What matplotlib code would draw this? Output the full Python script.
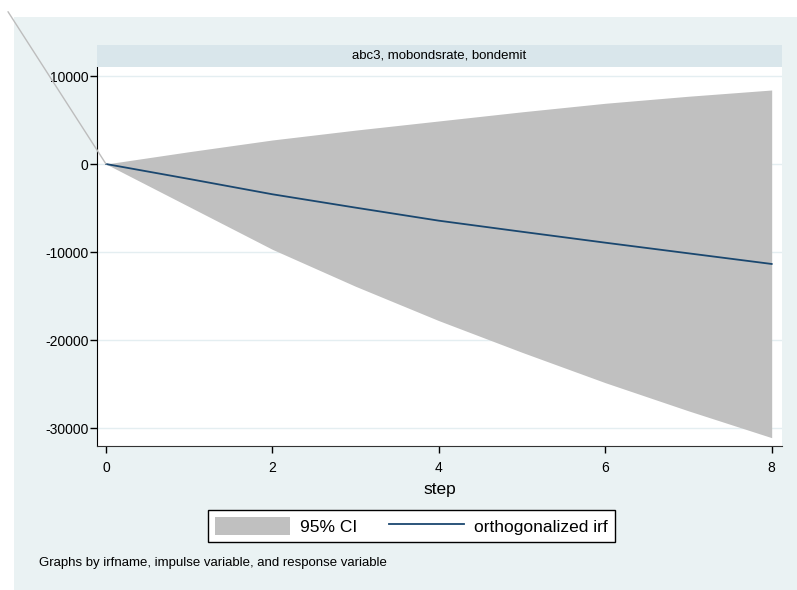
import matplotlib
matplotlib.use("Agg")
import matplotlib.pyplot as plt
from matplotlib.patches import Rectangle, Patch
from matplotlib.lines import Line2D

plt.rcParams['font.family'] = ['Liberation Sans', 'DejaVu Sans']
plt.rcParams['axes.unicode_minus'] = False

# data
step = [0, 1, 2, 3, 4, 5, 6, 7, 8]
oirf = [0, -1700, -3440, -4960, -6440, -7700, -8940, -10150, -11360]
ci_upper = [0, 1400, 2730, 3850, 4890, 5930, 6900, 7700, 8410]
ci_lower = [0, -4850, -9700, -13900, -17800, -21400, -24850, -28050, -31100]
yticks = [10000, 0, -10000, -20000, -30000]
xticks = [0, 2, 4, 6, 8]
panel_title = "abc3, mobondsrate, bondemit"

W, H = 797, 590
fig = plt.figure(figsize=(W / 100, H / 100), dpi=100, facecolor="white")

bg = "#EAF2F3"
# outer graph region
fig.patches.append(Rectangle((14 / W, 0), 1 - 14 / W, 1 - 17 / H,
                             transform=fig.transFigure, facecolor=bg,
                             edgecolor="none", zorder=-10))

ax_l, ax_r = 97 / W, 782 / W
ax_b, ax_t = 1 - 446 / H, 1 - 67 / H
ax = fig.add_axes([ax_l, ax_b, ax_r - ax_l, ax_t - ax_b])
ax.set_facecolor("white")

# strip with panel title
fig.patches.append(Rectangle((ax_l, ax_t), ax_r - ax_l, 22 / H,
                             transform=fig.transFigure, facecolor="#D9E6EB",
                             edgecolor="none", zorder=1))
fig.text((ax_l + ax_r) / 2, ax_t + 11 / H, panel_title, ha="center",
         va="center", fontsize=9.5, color="black")

ax.fill_between(step, ci_lower, ci_upper, color="#C0C0C0", lw=0, zorder=2)
ax.plot(step, oirf, color="#1A476F", lw=1.3, zorder=3)

ax.set_xlim(-0.108, 8.124)
ax.set_ylim(-32045, 11023)
ax.set_yticks(yticks)
ax.set_yticklabels([str(v) for v in yticks])
ax.set_xticks(xticks)
ax.set_xticklabels([str(v) for v in xticks])
ax.grid(axis="y", color="#E4EEF1", lw=1, zorder=0)
ax.set_axisbelow(True)

for s in ["top", "right"]:
    ax.spines[s].set_visible(False)
ax.spines["left"].set_color("black")
ax.spines["bottom"].set_color("#333333")
ax.tick_params(axis="both", direction="out", length=5, width=1,
               labelsize=10, color="black", pad=1)
ax.tick_params(axis="x", pad=6)
ax.set_xlabel("step", fontsize=12.5, labelpad=5)

# stray boundary line running to the origin
ax.annotate("", xy=(0, 0), xycoords="data",
            xytext=(8 / W, 1 - 11.7 / H), textcoords="figure fraction",
            arrowprops=dict(arrowstyle="-", color="#BDBDBD", lw=1,
                            shrinkA=0, shrinkB=0),
            annotation_clip=False, zorder=4)

handles = [Patch(facecolor="#C0C0C0", edgecolor="none"),
           Line2D([], [], color="#1A476F", lw=1.3)]
leg = fig.legend(handles, ["95% CI", "orthogonalized irf"], loc="center",
                 bbox_to_anchor=(0.5163, 1 - 526 / H), ncol=2, fontsize=12.5,
                 handlelength=4.3, handleheight=1.2, handletextpad=0.6,
                 columnspacing=1.8, borderpad=0.4, fancybox=False,
                 edgecolor="black", framealpha=1, facecolor="white")
leg.get_frame().set_linewidth(1)

fig.text(39 / W, 1 - 563 / H,
         "Graphs by irfname, impulse variable, and response variable",
         ha="left", va="center", fontsize=9.5)

fig.savefig("out.png", dpi=100, facecolor="white")
